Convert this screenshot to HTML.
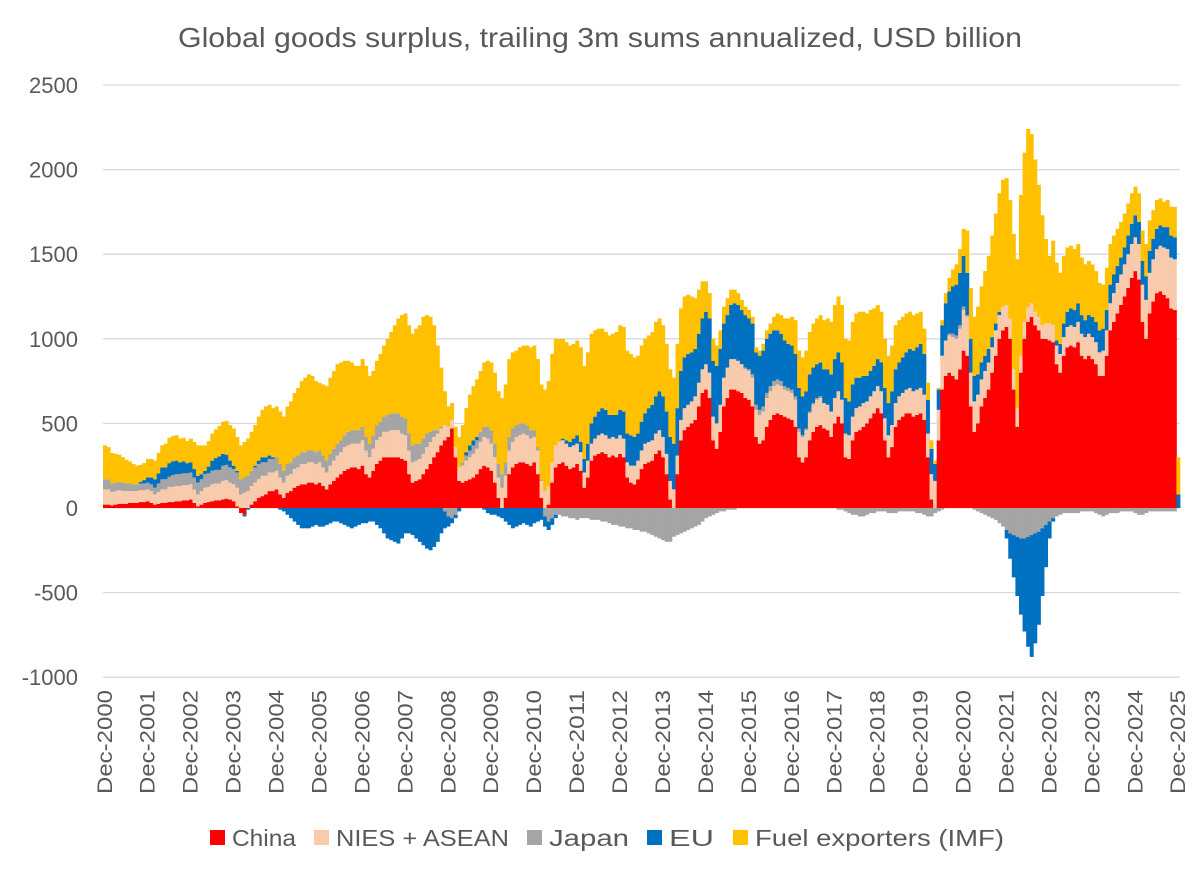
<!DOCTYPE html>
<html><head><meta charset="utf-8"><style>
body{margin:0;background:#fff;}
svg text{font-family:"Liberation Sans",sans-serif;fill:#595959;}
</style></head><body>
<svg id="chart" width="1200" height="872" xmlns="http://www.w3.org/2000/svg">
<text x="178" y="47" textLength="844" lengthAdjust="spacingAndGlyphs" font-size="28">Global goods surplus, trailing 3m sums annualized, USD billion</text>
<g id="grid"></g><g id="bars"></g><g id="yaxis"></g><g id="xaxis"></g>
<g id="legend"></g>
</svg>
<script>
const yTicks=[2500,2000,1500,1000,500,0,-500,-1000];
const years=['2000','2001','2002','2003','2004','2005','2006','2007','2008','2009','2010','2011','2012','2013','2014','2015','2016','2017','2018','2019','2020','2021','2022','2023','2024','2025'];
const seriesNames=['China','NIES + ASEAN','Japan','EU','Fuel exporters (IMF)'];
const china=[20,
20,15,20,25,25,25,30,30,30,35,35,40,
30,20,25,30,30,35,35,40,40,45,45,50,
30,10,20,30,35,40,45,45,50,55,50,40,
10,-30,-40,0,20,40,60,70,80,100,100,110,
80,60,90,100,120,130,140,140,150,150,140,150,
130,110,140,160,180,200,220,230,240,240,230,250,
200,180,220,260,280,300,300,300,300,300,290,280,
200,150,160,170,200,230,260,300,330,370,400,420,
470,300,160,150,160,170,180,200,230,250,240,220,
150,60,0,60,200,240,260,270,270,260,250,270,
200,60,0,20,150,240,260,270,250,230,240,260,
220,120,180,280,310,320,330,320,300,310,300,320,
300,180,150,140,170,230,260,270,280,320,340,300,
200,50,0,200,400,460,480,500,520,600,680,700,
650,400,350,450,600,650,700,700,690,680,650,640,
600,420,380,400,480,520,550,560,550,540,530,520,
480,300,270,300,400,450,480,490,470,460,420,500,
540,500,300,290,400,450,460,480,500,530,560,590,
560,400,300,360,480,520,540,560,560,540,550,560,
520,300,50,0,400,700,780,800,780,760,820,930,
900,600,450,500,600,650,700,800,900,1000,1050,1070,
1000,700,480,800,1000,1100,1130,1080,1050,1000,1000,990,
980,850,800,900,950,960,950,980,900,880,900,880,
850,780,780,900,1050,1100,1150,1200,1250,1300,1360,1400,
1350,1100,1000,1150,1220,1270,1280,1260,1240,1180,1170,0];
const nies=[90,
90,80,80,80,75,75,70,70,70,70,70,70,
70,60,70,80,80,90,90,90,90,90,90,90,
80,70,80,90,90,100,100,100,110,110,100,100,
110,80,90,100,110,110,110,120,110,110,110,110,
100,90,100,100,110,110,120,120,120,120,120,120,
110,100,110,120,130,130,140,140,140,140,150,150,
140,120,130,140,140,150,150,160,160,160,150,150,
140,120,120,120,120,130,130,120,110,100,90,60,
50,60,80,100,120,130,140,150,160,170,170,160,
150,120,120,130,140,150,160,160,170,170,160,150,
140,100,100,110,120,130,130,130,130,130,130,120,
110,90,100,100,100,110,110,110,110,110,110,110,
110,90,100,110,110,110,120,120,120,120,120,120,
120,110,110,110,120,130,130,130,140,140,140,150,
150,140,150,160,170,180,180,180,180,170,170,170,
170,160,170,170,170,170,170,170,170,160,160,160,
160,150,150,160,160,160,160,160,150,150,150,150,
150,140,140,140,140,140,140,140,130,130,130,130,
130,130,130,130,140,140,140,140,150,150,150,150,
150,140,150,160,180,200,210,220,230,240,240,240,
230,200,180,170,160,160,160,150,150,140,140,130,
120,120,110,100,100,90,80,80,80,80,90,100,
100,110,110,110,120,120,120,120,130,130,130,130,
130,140,150,150,160,170,180,180,190,200,200,200,
210,220,230,240,250,260,270,280,290,300,300,0];
const japan=[60,
60,50,50,50,50,45,45,40,40,40,40,40,
40,40,50,60,60,60,70,70,70,70,70,70,
70,70,70,80,80,80,80,80,90,90,90,90,
90,90,90,90,90,90,90,80,80,80,80,80,
80,70,70,70,70,70,70,70,70,70,70,70,
70,70,70,70,70,70,70,80,80,80,80,80,
80,80,80,90,90,90,100,100,100,100,100,100,
100,100,100,90,90,80,60,40,20,10,-20,-50,
-60,-40,0,20,30,40,50,50,60,60,70,80,
80,80,80,80,80,80,70,70,60,60,50,40,
20,10,-50,-80,-60,-40,-40,-50,-50,-60,-60,-70,
-60,-60,-60,-70,-70,-70,-80,-80,-90,-100,-100,-110,
-110,-120,-120,-130,-130,-140,-140,-150,-160,-170,-180,-190,
-200,-200,-170,-160,-150,-140,-130,-120,-110,-100,-80,-60,
-50,-40,-30,-20,-20,-10,-10,-10,0,0,10,10,
20,30,30,30,30,30,30,30,30,20,20,20,
20,20,10,10,10,10,10,10,0,0,0,0,
-10,-10,-20,-30,-40,-40,-50,-50,-40,-30,-30,-20,
-20,-20,-30,-30,-30,-20,-20,-20,-20,-20,-30,-30,
-40,-50,-50,-30,-20,-10,0,10,20,20,20,20,
10,0,-10,-20,-30,-40,-50,-60,-70,-90,-110,-130,
-150,-160,-170,-180,-180,-170,-160,-150,-140,-120,-100,-80,
-60,-50,-40,-30,-30,-30,-30,-30,-20,-20,-20,-20,
-30,-40,-50,-40,-30,-30,-30,-20,-20,-20,-20,-30,
-40,-40,-30,-20,-20,-20,-20,-20,-20,-20,-20,0];
const eu=[0,
0,0,0,0,0,0,0,0,0,10,20,30,
40,50,60,70,70,80,80,80,70,70,60,60,
50,40,30,20,40,60,70,80,70,60,40,20,
10,0,-10,-10,0,10,20,30,30,20,10,0,
-10,-20,-40,-60,-80,-100,-120,-120,-120,-110,-100,-110,
-110,-100,-90,-80,-80,-90,-100,-110,-120,-110,-100,-90,
-90,-80,-80,-100,-120,-150,-180,-190,-200,-210,-180,-150,
-150,-160,-180,-200,-220,-240,-250,-230,-200,-150,-100,-60,
-30,-20,-20,0,20,30,30,20,0,-10,-30,-40,
-40,-50,-60,-80,-100,-120,-110,-100,-90,-100,-110,-90,
-80,-70,-60,-50,-40,-20,0,10,20,30,40,50,
60,80,100,120,130,140,150,150,140,130,140,150,
160,170,180,170,160,170,180,200,210,220,230,240,
250,260,270,280,290,300,300,290,280,290,300,310,
320,330,340,330,320,310,320,330,330,320,310,300,
300,310,320,330,320,310,300,290,280,270,260,260,
250,240,230,220,220,210,200,200,200,210,220,230,
230,220,210,200,190,180,170,160,150,150,150,160,
170,180,190,200,200,200,210,220,230,240,250,260,
240,200,150,100,120,180,220,250,280,300,310,300,
250,200,150,120,100,90,80,60,40,20,0,-50,
-150,-250,-350,-450,-550,-650,-720,-650,-550,-400,-250,-100,
-20,30,60,80,90,100,100,110,110,100,110,120,
120,130,130,120,110,110,100,100,100,110,120,130,
130,140,140,130,120,120,120,120,130,130,130,80];
const fuel=[200,
190,180,170,160,150,140,130,120,110,100,100,110,
110,110,120,130,140,150,150,150,140,140,130,140,
160,180,170,150,150,160,170,180,190,200,210,220,
200,200,210,220,230,240,260,280,300,300,290,300,
310,320,340,360,380,400,420,440,450,440,420,400,
420,440,450,460,470,460,440,420,400,380,380,400,
420,400,380,380,400,420,450,480,520,560,600,620,
640,660,680,700,720,700,680,620,500,350,200,120,
100,120,180,220,260,300,320,340,360,380,390,400,
420,430,450,460,460,450,440,450,460,470,490,500,
520,560,600,620,640,630,610,590,580,570,560,560,
560,550,540,530,510,490,470,460,470,480,490,500,
500,490,480,470,460,450,440,430,430,440,430,420,
400,400,390,380,370,360,350,330,300,260,220,180,
150,130,120,110,100,100,90,80,70,60,50,50,
40,30,30,40,50,60,80,100,110,130,150,170,
200,220,230,240,250,260,270,280,290,300,310,320,
330,340,350,360,370,380,390,380,370,360,340,320,
300,290,280,270,260,250,240,230,220,210,200,190,
150,100,50,20,10,30,60,80,100,120,140,160,
250,300,350,400,450,500,550,600,650,700,750,750,
700,800,880,950,1000,1050,1000,900,780,650,500,400,
500,460,420,400,380,370,360,350,340,330,320,310,
300,280,260,250,240,230,220,210,200,190,180,170,
170,180,190,180,170,170,160,150,160,170,180,220];
const colors=['#ff0000','#f8cbad','#a5a5a5','#0070c0','#ffc000'];
const allSeries=[china,nies,japan,eu,fuel];
const NS='http://www.w3.org/2000/svg';
const X0=103,X1=1180,N=china.length,BW=(X1-X0)/N;
function yS(v){return 508-v*(84.6/500);}
function xS(i){return X0+i*BW;}
function mk(tag,attrs,parent){const e=document.createElementNS(NS,tag);for(const k in attrs)e.setAttribute(k,attrs[k]);parent.appendChild(e);return e;}
const grid=document.getElementById('grid'),yax=document.getElementById('yaxis');
yTicks.forEach(t=>{
 const l=mk('line',{x1:X0,x2:X1,y1:yS(t),y2:yS(t),stroke:'#d9d9d9','stroke-width':1.3},grid);
 
 
 const tx=mk('text',{x:78,y:yS(t)+8,'text-anchor':'end','font-size':22},yax);
 tx.textContent=t;
 
 
});
const bars=document.getElementById('bars');
for(let i=0;i<N;i++){
 let pos=0,neg=0;
 for(let s=0;s<5;s++){
  const v=allSeries[s][i];if(!v)continue;
  let a,b;
  if(v>0){a=pos;b=pos+v;pos=b;}else{a=neg;b=neg+v;neg=b;}
  const y1=yS(Math.max(a,b)),y2=yS(Math.min(a,b));
  const r=mk('rect',{x:xS(i),y:y1,width:BW+0.4,height:y2-y1,fill:colors[s]},bars);
  
  
 }
}
const xax=document.getElementById('xaxis');
years.forEach((yr,k)=>{
 const cx=xS(k*12)+BW/2+7;
 const t=mk('text',{x:0,y:0,'text-anchor':'end','font-size':21,textLength:104,lengthAdjust:'spacingAndGlyphs',transform:'translate('+cx+',690) rotate(-90)'},xax);
 t.textContent='Dec-'+yr;
 
 
});
const leg=document.getElementById('legend');
const lx=[210,314,527,647,733];
const lw=[64,173,80,45,249];
seriesNames.forEach((n,s)=>{
 const r=mk('rect',{x:lx[s],y:830,width:15,height:15,fill:colors[s]},leg);
 
 
 const t=mk('text',{x:lx[s]+22,y:846,'font-size':23,textLength:lw[s],lengthAdjust:'spacingAndGlyphs'},leg);
 t.textContent=n;
 
 
});
</script>
</body></html>
